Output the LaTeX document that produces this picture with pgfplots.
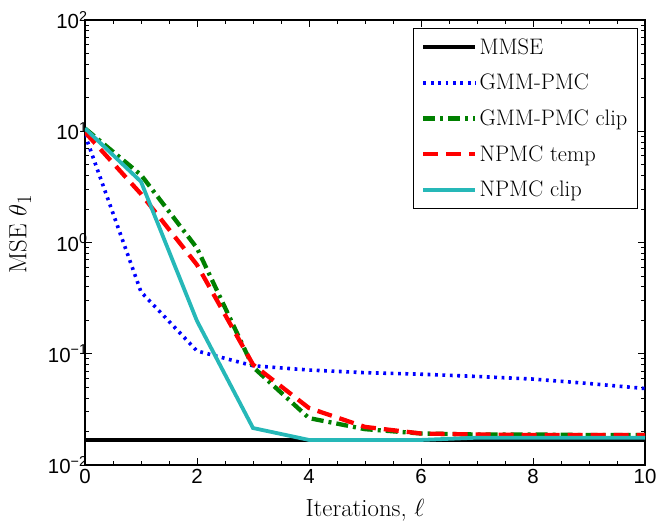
\documentclass[border=0pt]{standalone}
\usepackage{fontspec}
\newfontfamily\helv{Liberation Sans}
\usepackage{pgfplots}
\pgfplotsset{compat=1.18}
\definecolor{mcyan}{rgb}{0.15,0.72,0.72}
\definecolor{mgreen}{rgb}{0,0.5,0}
\begin{document}
\begin{tikzpicture}
\path[use as bounding box] (-85bp,-61bp) rectangle (582bp,465bp);
\begin{axis}[
  at={(0,0)}, anchor=south west,
  scale only axis, width=560bp, height=445bp,
  ymode=log, xmin=0, xmax=10, ymin=0.01, ymax=100,
  xtick={0,2,4,6,8,10}, xticklabels={0,2,4,6,8,10},
  minor x tick num=3,
  ytick={0.01,0.1,1,10,100},
  yticklabels={10\textsuperscript{−2},10\textsuperscript{−1},10\textsuperscript{0},10\textsuperscript{1},10\textsuperscript{2}},
  tick label style={font=\fontsize{20.5}{22}\selectfont\helv},
  yticklabel style={xshift=6bp},
  xticklabel style={yshift=-1bp},
  major tick length=7bp, minor tick length=4bp,
  tick style={black, line width=0.9bp},
  axis line style={line width=1.2bp},
  xlabel={Iterations, $\ell$},
  ylabel={MSE $\theta_1$},
  label style={font=\fontsize{24.88}{28}\selectfont},
  xlabel style={at={(axis description cs:0.5,-0.101)}, anchor=center},
  ylabel style={at={(axis description cs:-0.116,0.519)}, anchor=center, rotate=0},
  legend style={at={(rel axis cs:1,1)}, anchor=north east, xshift=-7bp, yshift=-8bp,
    font=\fontsize{22.5}{26}\selectfont, draw=black, line width=1.2bp,
    inner xsep=8bp, inner ysep=8bp, row sep=14.5bp},
  legend cell align=left,
  legend image code/.code={\draw[#1] (0bp,0bp) -- (52bp,0bp);},
]
\addplot[black, line width=3.8bp] coordinates {(0,0.0167) (10,0.0167)};
\addlegendentry{MMSE}
\addplot[blue, line width=3.6bp, dash pattern=on 2.8bp off 4.6bp] coordinates {
(0,9.3) (1,0.36) (2,0.106) (3,0.078) (4,0.0714) (5,0.0676) (6,0.0655) (7,0.0625) (8,0.0592) (9,0.054) (10,0.0487)};
\addlegendentry{GMM-PMC}
\addplot[mgreen, line width=4.3bp, dash pattern=on 12bp off 5bp on 3bp off 5bp] coordinates {
(0,10.6) (1,4.05) (2,0.89) (3,0.076) (4,0.0264) (5,0.021) (6,0.0192) (7,0.0188) (8,0.0188) (9,0.0186) (10,0.0186)};
\addlegendentry{GMM-PMC clip}
\addplot[red, line width=4.3bp, dash pattern=on 15bp off 8bp] coordinates {
(0,9.8) (1,2.73) (2,0.63) (3,0.08) (4,0.0325) (5,0.022) (6,0.0192) (7,0.0188) (8,0.0186) (9,0.0186) (10,0.0186)};
\addlegendentry{NPMC temp}
\addplot[mcyan, line width=3.8bp] coordinates {
(0,10.6) (1,3.52) (2,0.197) (3,0.0215) (4,0.0168) (5,0.0168) (6,0.0168) (7,0.0176) (8,0.0176) (9,0.0176) (10,0.0176)};
\addlegendentry{NPMC clip}
\end{axis}
\end{tikzpicture}
\end{document}
